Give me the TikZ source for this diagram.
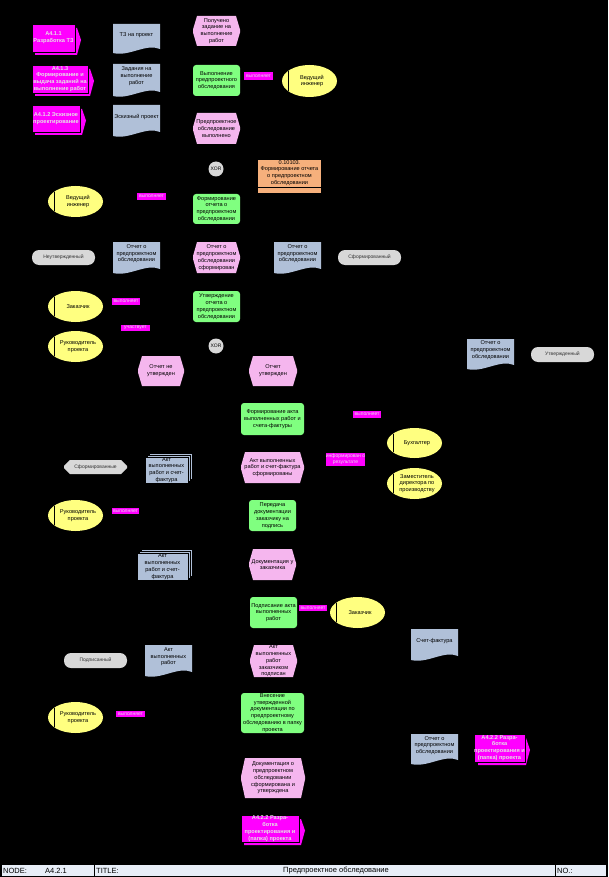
\documentclass[tikz,border=0pt]{standalone}
\usepackage{fontspec}
\setmainfont{Liberation Sans}
\usetikzlibrary{shapes.geometric,shapes.misc}
\definecolor{magcol}{HTML}{FF00FF}
\definecolor{fncol}{HTML}{80FF80}
\definecolor{evcol}{HTML}{F5B6EE}
\definecolor{doccol}{HTML}{B0C0D8}
\definecolor{orgcol}{HTML}{FFFF80}
\definecolor{trmcol}{HTML}{D8D8D8}
\definecolor{orcol}{HTML}{F6B07C}
\definecolor{footcol}{HTML}{E8EEF8}
\newcommand\dTxtFont{\fontsize{5.6}{6.8}\selectfont}
\newcommand\dSmFont{\fontsize{5}{6}\selectfont}
\tikzset{
  txt/.style={align=center, font=\dTxtFont, inner sep=0pt, text=black},
  fnbox/.style={txt, fill=fncol, rounded corners=3pt},
  orgbox/.style={ellipse, fill=orgcol, inner sep=0pt},
  pifbox/.style={txt, draw=black, line width=0.4pt, fill=magcol, text=gray!20, font=\dTxtFont\bfseries},
  lblbox/.style={fill=magcol, inner sep=0pt, font=\dSmFont, text=gray!20},
  trmbox/.style={fill=trmcol, inner sep=0pt, rounded corners=7pt, font=\dSmFont, text=black!80},
  xorbox/.style={circle, fill=trmcol, inner sep=0pt, minimum size=15pt, font=\dSmFont},
  foottxt/.style={inner sep=0pt, font=\fontsize{7.5}{9}\selectfont, text=black}
}
% name, x0, y0, x1, y1, text
\newcommand\dFn[6]{\node[fnbox, minimum width={(#4-#2)*1pt}, minimum height={(#5-#3)*1pt}] (#1) at ({(#2+#4)/2},{(#3+#5)/2}) {#6};}
\newcommand\dEv[6]{\fill[evcol] (#2,{(#3+#5)/2-1.5}) -- ({#2+4},#3) -- ({#4-4},#3) -- (#4,{(#3+#5)/2-1.5}) -- (#4,{(#3+#5)/2+1.5}) -- ({#4-4},#5) -- ({#2+4},#5) -- (#2,{(#3+#5)/2+1.5}) -- cycle;
  \node[txt] (#1) at ({(#2+#4)/2},{(#3+#5)/2}) {#6};}
\newcommand\dDoc[6]{\fill[doccol] (#2,#3) -- (#4,#3) -- (#4,{#5-4}) .. controls ({#4-0.3*(#4-#2)},{#5-10}) and ({#2+0.35*(#4-#2)},{#5+4}) .. (#2,#5) -- cycle;
  \node[txt] (#1) at ({(#2+#4)/2},{#3+0.38*(#5-#3)}) {#6};}
\newcommand\dMdoc[6]{\filldraw[fill=doccol, draw=black, line width=0.4pt] ({#2+4},{#3-4}) rectangle ({#4+4},{#5-4});
  \filldraw[fill=doccol, draw=black, line width=0.4pt] ({#2+2},{#3-2}) rectangle ({#4+2},{#5-2});
  \node[txt, fill=doccol, draw=black, line width=0.4pt, minimum width={(#4-#2)*1pt}, minimum height={(#5-#3)*1pt}] (#1) at ({(#2+#4)/2},{(#3+#5)/2}) {#6};}
\newcommand\dOrg[6]{\node[orgbox, minimum width={(#4-#2)*1pt}, minimum height={(#5-#3)*1pt}] (#1) at ({(#2+#4)/2},{(#3+#5)/2}) {};
  \draw[black, line width=0.6pt] ({#2+6},{(#3+#5)/2-0.31*(#5-#3)}) -- ({#2+6},{(#3+#5)/2+0.31*(#5-#3)});
  \node[txt] (#1t) at ({(#2+#4)/2+2.5},{(#3+#5)/2}) {#6};}
\newcommand\dPif[6]{\fill[magcol] ({#2+3},{#3+4}) -- ({#4+2},{#3+4}) -- ({#4+6},{(#3+#5)/2+2}) -- ({#4+2},{#5+3}) -- ({#2+3},{#5+3}) -- cycle;
  \node[pifbox, minimum width={(#4-#2)*1pt}, minimum height={(#5-#3)*1pt}] (#1) at ({(#2+#4)/2},{(#3+#5)/2}) {#6};}
\newcommand\dLbl[6]{\node[lblbox, align=center, minimum width={(#4-#2)*1pt}, minimum height={(#5-#3)*1pt}] (#1) at ({(#2+#4)/2},{(#3+#5)/2}) {#6};}
\newcommand\dTrm[6]{\node[trmbox, minimum width={(#4-#2)*1pt}, minimum height={(#5-#3)*1pt}] (#1) at ({(#2+#4)/2},{(#3+#5)/2}) {#6};}
\begin{document}
\begin{tikzpicture}[x=1pt,y=-1pt]
\fill[black] (0,0) rectangle (608,877);
\useasboundingbox (0,0) rectangle (608,877);

% process interfaces
\dPif{m1}{32}{24}{75}{52}{A4.1.1\\Разработка ТЗ}
\dPif{m2}{32}{65}{88}{93}{A4.1.3\\Формирование и\\выдача заданий на\\выполнение работ}
\dPif{m3}{32}{105}{80}{132}{A4.1.2 Эскизное\\проектирование}
\dPif{m4}{475}{734}{524}{762}{A4.2.2 Разра-\\ботка\\проектирования и\\(папка) проекта}
\dPif{m5}{241}{815}{299}{842}{A4.2.2 Разра-\\ботка\\проектирования и\\(папка) проекта}

% documents
\dDoc{d1}{113}{24}{160}{53}{ТЗ на проект}
\dDoc{d2}{113}{64}{160}{96}{Задания на\\выполнение\\работ}
\dDoc{d3}{113}{105}{160}{136}{Эскизный проект}
\dDoc{d4}{113}{242}{160}{273}{Отчет о\\предпроектном\\обследовании}
\dDoc{d5}{274}{242}{321}{273}{Отчет о\\предпроектном\\обследовании}
\dDoc{d6}{467}{339}{514}{369}{Отчет о\\предпроектном\\обследовании}
\dDoc{d7}{411}{629}{458}{660}{Счет-фактура}
\dDoc{d8}{145}{645}{192}{676}{Акт\\выполненных\\работ}
\dDoc{d9}{411}{734}{458}{764}{Отчет о\\предпроектном\\обследовании}

\dMdoc{md1}{145}{457}{188}{483}{Акт\\выполненных\\работ и счет-\\фактура}
\dMdoc{md2}{137}{553}{188}{580}{Акт\\выполненных\\работ и счет-\\фактура}

% events
\dEv{e1}{193}{16}{240}{46}{Получено\\задание на\\выполнение\\работ}
\dEv{e2}{193}{113}{240}{144}{Предпроектное\\обследование\\выполнено}
\dEv{e3}{193}{242}{240}{273}{Отчет о\\предпроектном\\обследовании\\сформирован}
\dEv{e4}{138}{356}{184}{386}{Отчет не\\утвержден}
\dEv{e5}{249}{356}{297}{386}{Отчет\\утвержден}
\dEv{e6}{241}{452}{304}{483}{Акт выполненных\\работ и счет-фактура\\сформированы}
\dEv{e7}{249}{549}{296}{580}{Документация у\\заказчика}
\dEv{e8}{250}{645}{297}{677}{Акт\\выполненных\\работ\\заказчиком\\подписан}
\dEv{e9}{241}{758}{305}{798}{Документация о\\предпроектном\\обследовании\\сформирована и\\утверждена}

% functions
\dFn{f1}{193}{65}{240}{96}{Выполнение\\предпроектного\\обследования}
\dFn{f2}{193}{194}{240}{224}{Формирование\\отчета о\\предпроектном\\обследовании}
\dFn{f3}{193}{291}{240}{322}{Утверждение\\отчета о\\предпроектном\\обследовании}
\dFn{f4}{241}{403}{304}{435}{Формирование акта\\выполненных работ и\\счета-фактуры}
\dFn{f5}{249}{500}{296}{531}{Передача\\документации\\заказчику на\\подпись}
\dFn{f6}{250}{597}{297}{628}{Подписание акта\\выполненных\\работ}
\dFn{f7}{241}{693}{304}{733}{Внесение\\утвержденной\\документации по\\предпроектному\\обследованию в папку\\проекта}

% orange function
\node[txt, fill=orcol, minimum width=63pt, minimum height=33pt] (or1) at (289.5,176.5) {};
\draw[black, line width=0.5pt] (258,187) -- (321,187);
\node[txt] (or1t) at (289.5,173) {0.10103.\\Формирование отчета\\о предпроектном\\обследовании};

% organisational units
\dOrg{o1}{282}{65}{337}{97}{Ведущий\\инженер}
\dOrg{o2}{48}{186}{103}{217}{Ведущий\\инженер}
\dOrg{o3}{48}{291}{103}{322}{Заказчик}
\dOrg{o4}{48}{331}{103}{362}{Руководитель\\проекта}
\dOrg{o5}{387}{428}{442}{458}{Бухгалтер}
\dOrg{o6}{387}{468}{442}{499}{Заместитель\\директора по\\производству}
\dOrg{o7}{48}{500}{103}{531}{Руководитель\\проекта}
\dOrg{o8}{330}{597}{385}{628}{Заказчик}
\dOrg{o9}{48}{702}{103}{733}{Руководитель\\проекта}

% labels
\dLbl{l1}{244}{72}{273}{80}{выполняет}
\dLbl{l2}{137}{193}{166}{200}{выполняет}
\dLbl{l3}{112}{298}{140}{305}{выполняет}
\dLbl{l4}{121}{325}{150}{331}{участвует}
\dLbl{l5}{353}{411}{381}{418}{выполняет}
\dLbl{l6}{330}{453}{361}{466}{информирован о\\результате}
\dLbl{l7}{112}{508}{139}{514}{выполняет}
\dLbl{l8}{299}{605}{327}{611}{выполняет}
\dLbl{l9}{116}{711}{145}{717}{выполняет}

% states
\dTrm{g1}{32}{250}{95}{265}{Неутвержденный}
\dTrm{g2}{338}{250}{401}{265}{Сформированный}
\dTrm{g3}{531}{347}{594}{362}{Утвержденный}
\node[trmbox, rounded corners=0pt, chamfered rectangle, chamfered rectangle xsep=4pt, minimum width=63pt, minimum height=14pt] (g4) at (95.5,467) {Сформированные};
\dTrm{g5}{64}{653}{127}{668}{Подписанный}

% XOR
\node[xorbox] (x1) at (216,169) {XOR};
\node[xorbox] (x2) at (216,346) {XOR};

% footer
\fill[footcol] (2,865) rectangle (606,876);
\draw[black, line width=0.6pt] (94,865) -- (94,876);
\draw[black, line width=0.6pt] (555,865) -- (555,876);
\node[foottxt, anchor=west] (fn1) at (3,870.5) {NODE:};
\node[foottxt, anchor=west] (fn2) at (45,870.5) {A4.2.1};
\node[foottxt, anchor=west] (fn3) at (96,870.5) {TITLE:};
\node[foottxt] (fn4) at (336,870.5) {Предпроектное обследование};
\node[foottxt, anchor=west] (fn5) at (557,870.5) {NO.:};
\end{tikzpicture}
\end{document}
